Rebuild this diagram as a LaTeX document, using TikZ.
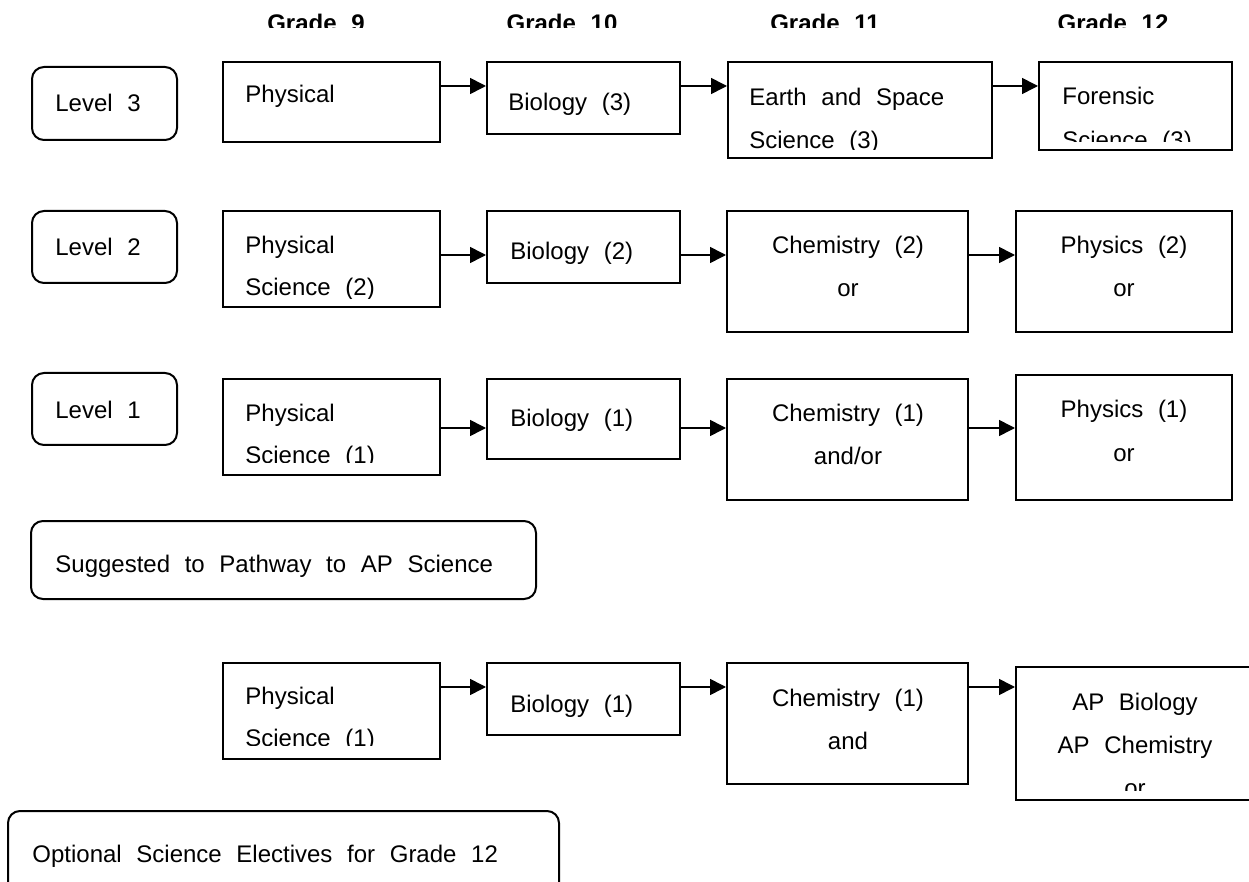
\documentclass[tikz,border=0pt]{standalone}
\usepackage{fontspec}
\setmainfont{Liberation Sans}[WordSpace=2.2]
\usetikzlibrary{arrows.meta,fit}
\begin{document}
\begin{tikzpicture}[x=0.5pt,y=-0.5pt,
  every node/.style={inner sep=0pt,font=\fontsize{12}{14}\selectfont},
  crs/.style={draw,line width=1pt,fit={#1}},
  lvl/.style={draw,line width=1pt,rounded corners=6pt,fit={#1}},
  hdr/.style={anchor=base,font=\fontsize{12}{14}\selectfont\bfseries},
  lab/.style={anchor=base west},
  mid/.style={anchor=base},
  arr/.style={line width=0.8pt,-{Triangle[length=8pt,width=8pt]}}]
\useasboundingbox (0,0) rectangle (1249,882);
\coordinate (r1) at (0,86);
\coordinate (r2) at (0,255);
\coordinate (r3) at (0,428);
\coordinate (r5) at (0,687);
\begin{scope}
\clip (0,0) rectangle (1249,28);
\node[hdr] (g9) at (316,32) {Grade 9};
\node[hdr] (g10) at (562,32) {Grade 10};
\node[hdr] (g11) at (825,32) {Grade 11};
\node[hdr] (g12) at (1113,32) {Grade 12};
\end{scope}
\node[lvl={(32,67) (177,140)}] (lv3) {};
\node[lab] (lv3t) at (55,112) {Level 3};
\node[crs={(223,62) (440,142)}] (ph3) {};
\node[lab] (ph3t) at (245,103) {Physical};
\node[crs={(487,62) (680,134)}] (bi3) {};
\node[lab] (bi3t) at (508,111) {Biology (3)};
\node[crs={(728,62) (992,158)}] (es3) {};
\node[lab] (es3t) at (749,106) {Earth and Space};
\node[crs={(1039,62) (1232,150)}] (fo3) {};
\node[lab] (fo3t) at (1062,105) {Forensic};
\begin{scope}
\clip (728,62) rectangle (992,150);
\node[lab] (es3u) at (749,149) {Science (3)};
\end{scope}
\begin{scope}
\clip (1039,62) rectangle (1232,142);
\node[lab] (fo3u) at (1062,149) {Science (3)};
\end{scope}
\node[lvl={(32,211) (177,283)}] (lv2) {};
\node[lab] (lv2t) at (55,256) {Level 2};
\node[crs={(223,211) (440,307)}] (ph2) {};
\node[lab] (ph2t) at (245,254) {Physical};
\begin{scope}
\clip (223,211) rectangle (440,299);
\node[lab] (ph2u) at (245,296) {Science (2)};
\end{scope}
\node[crs={(487,211) (680,283)}] (bi2) {};
\node[lab] (bi2t) at (510,260) {Biology (2)};
\node[crs={(727,211) (968,332)}] (ch2) {};
\node[mid] (ch2t) at (848,254) {Chemistry (2)};
\node[mid] (ch2u) at (848,297) {or};
\node[crs={(1016,211) (1232,332)}] (py2) {};
\node[mid] (py2t) at (1124,254) {Physics (2)};
\node[mid] (py2u) at (1124,297) {or};
\node[lvl={(32,373) (177,445)}] (lv1) {};
\node[lab] (lv1t) at (55,419) {Level 1};
\node[crs={(223,379) (440,475)}] (ph1) {};
\node[lab] (ph1t) at (245,422) {Physical};
\begin{scope}
\clip (223,379) rectangle (440,463);
\node[lab] (ph1u) at (245,464) {Science (1)};
\end{scope}
\node[crs={(487,379) (680,459)}] (bi1) {};
\node[lab] (bi1t) at (510,427) {Biology (1)};
\node[crs={(727,379) (968,500)}] (ch1) {};
\node[mid] (ch1t) at (848,422) {Chemistry (1)};
\node[mid] (ch1u) at (848,465) {and/or};
\node[crs={(1016,375) (1232,500)}] (py1) {};
\node[mid] (py1t) at (1124,418) {Physics (1)};
\node[mid] (py1u) at (1124,462) {or};
\node[lvl={(31,521) (536,599)}] (sug) {};
\node[lab] (sugt) at (55,572) {Suggested to Pathway to AP Science};
\node[crs={(223,663) (440,759)}] (ph5) {};
\node[lab] (ph5t) at (245,704) {Physical};
\begin{scope}
\clip (223,663) rectangle (440,745);
\node[lab] (ph5u) at (245,746) {Science (1)};
\end{scope}
\node[crs={(487,663) (680,735)}] (bi5) {};
\node[lab] (bi5t) at (510,712) {Biology (1)};
\node[crs={(727,663) (968,784)}] (ch5) {};
\node[mid] (ch5t) at (848,706) {Chemistry (1)};
\node[mid] (ch5u) at (848,749) {and};
\node[crs={(1016,667) (1262,800)}] (ap5) {};
\node[mid] (ap5t) at (1135,710) {AP Biology};
\node[mid] (ap5u) at (1135,753) {AP Chemistry};
\begin{scope}
\clip (1016,667) rectangle (1262,790);
\node[mid] (ap5v) at (1135,796) {or};
\end{scope}
\node[lvl={(8,811) (559,900)}] (opt) {};
\node[lab] (optt) at (32,862) {Optional Science Electives for Grade 12};
\draw[arr] (ph3.east |- r1) -- (bi3.west |- r1);
\draw[arr] (bi3.east |- r1) -- (es3.west |- r1);
\draw[arr] (es3.east |- r1) -- (fo3.west |- r1);
\draw[arr] (ph2.east |- r2) -- (bi2.west |- r2);
\draw[arr] (bi2.east |- r2) -- (ch2.west |- r2);
\draw[arr] (ch2.east |- r2) -- (py2.west |- r2);
\draw[arr] (ph1.east |- r3) -- (bi1.west |- r3);
\draw[arr] (bi1.east |- r3) -- (ch1.west |- r3);
\draw[arr] (ch1.east |- r3) -- (py1.west |- r3);
\draw[arr] (ph5.east |- r5) -- (bi5.west |- r5);
\draw[arr] (bi5.east |- r5) -- (ch5.west |- r5);
\draw[arr] (ch5.east |- r5) -- (ap5.west |- r5);
\end{tikzpicture}
\end{document}
